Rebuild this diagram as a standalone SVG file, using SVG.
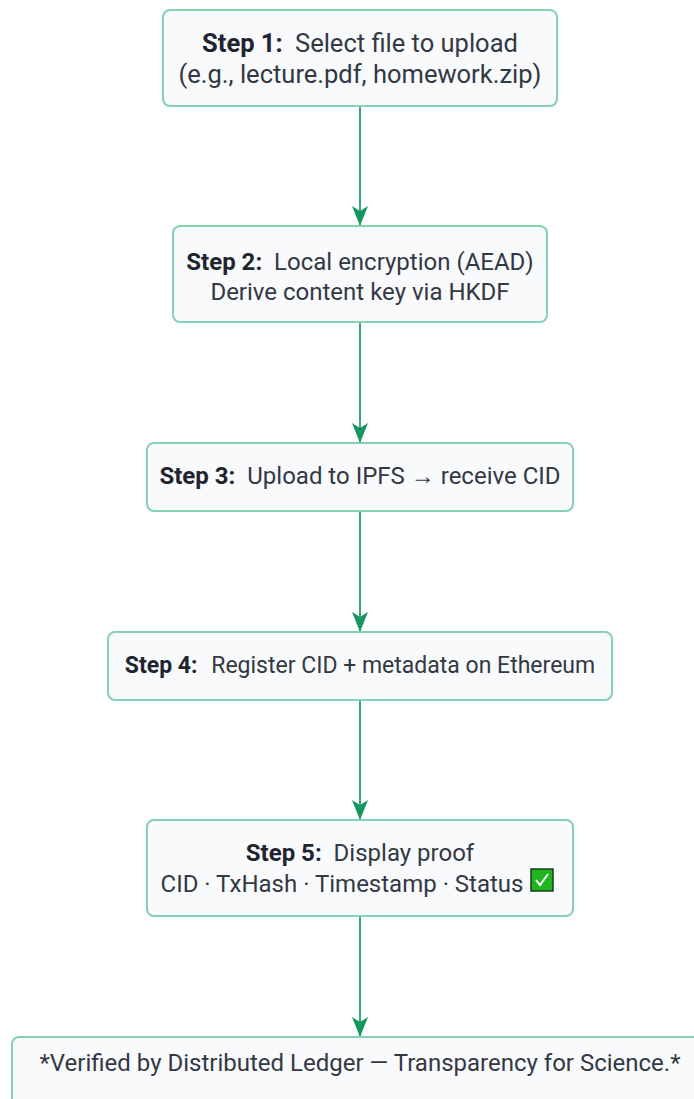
<svg xmlns="http://www.w3.org/2000/svg" width="694" height="1099" viewBox="0 0 694 1099">
<defs>
<style>
.box{fill:#f8fafc;stroke:#86d2b0;stroke-width:2}
.t{font-family:Roboto,"Liberation Sans",sans-serif;font-size:24px;fill:#333844;text-anchor:middle}
.b{font-weight:bold;fill:#1f2430}
.edge{stroke:#3aa57a;stroke-width:2;fill:none}
</style>
<marker id="ah" viewBox="0 0 20 16" refX="20" refY="8" markerWidth="20" markerHeight="16" markerUnits="userSpaceOnUse" orient="auto">
<path d="M0,0 L20,8 L0,16 L5,8 Z" fill="#15965e"/>
</marker>
</defs>
<rect width="694" height="1099" fill="#ffffff"/>
<g id="connectors">
<line class="edge" x1="360" y1="106" x2="360" y2="226" marker-end="url(#ah)"/>
<line class="edge" x1="360" y1="322" x2="360" y2="443" marker-end="url(#ah)"/>
<line class="edge" x1="360" y1="511" x2="360" y2="632" marker-end="url(#ah)"/>
<line class="edge" x1="360" y1="700" x2="360" y2="820" marker-end="url(#ah)"/>
<line class="edge" x1="360" y1="916" x2="360" y2="1037" marker-end="url(#ah)"/>
</g>
<g id="step1">
<rect class="box" x="163" y="10" width="394" height="96" rx="7"/>
<text class="t" x="360" y="52" style="font-size:25.5px"><tspan class="b">Step 1:</tspan><tspan dx="6"> Select file to upload</tspan></text>
<text class="t" x="360" y="83" style="font-size:25.5px">(e.g., lecture.pdf, homework.zip)</text>
</g>
<g id="step2">
<rect class="box" x="173" y="226" width="374" height="96" rx="7"/>
<text class="t" x="360" y="270"><tspan class="b">Step 2:</tspan><tspan dx="6"> Local encryption (AEAD)</tspan></text>
<text class="t" x="360" y="300">Derive content key via HKDF</text>
</g>
<g id="step3">
<rect class="box" x="147" y="443" width="426" height="68" rx="7"/>
<text class="t" x="360" y="484"><tspan class="b">Step 3:</tspan><tspan dx="6"> Upload to IPFS → receive CID</tspan></text>
</g>
<g id="step4">
<rect class="box" x="108" y="632" width="504" height="68" rx="7"/>
<text class="t" x="360" y="673" style="font-size:23px"><tspan class="b">Step 4:</tspan><tspan dx="8"> Register CID + metadata on Ethereum</tspan></text>
</g>
<g id="step5">
<rect class="box" x="147" y="820" width="426" height="96" rx="7"/>
<text class="t" x="360" y="861"><tspan class="b">Step 5:</tspan><tspan dx="6"> Display proof</tspan></text>
<text class="t" x="342" y="892">CID · TxHash · Timestamp · Status</text>
<rect x="531" y="869" width="22" height="22" fill="#1fb51f" stroke="#1d3b1d" stroke-width="1.5"/>
<path d="M536,880 L540,885 L548,874" fill="none" stroke="#ffffff" stroke-width="2"/>
</g>
<g id="footer">
<rect class="box" x="12" y="1037" width="700" height="90" rx="7"/>
<text class="t" x="360" y="1071">*Verified by Distributed Ledger — Transparency for Science.*</text>
</g>
</svg>
